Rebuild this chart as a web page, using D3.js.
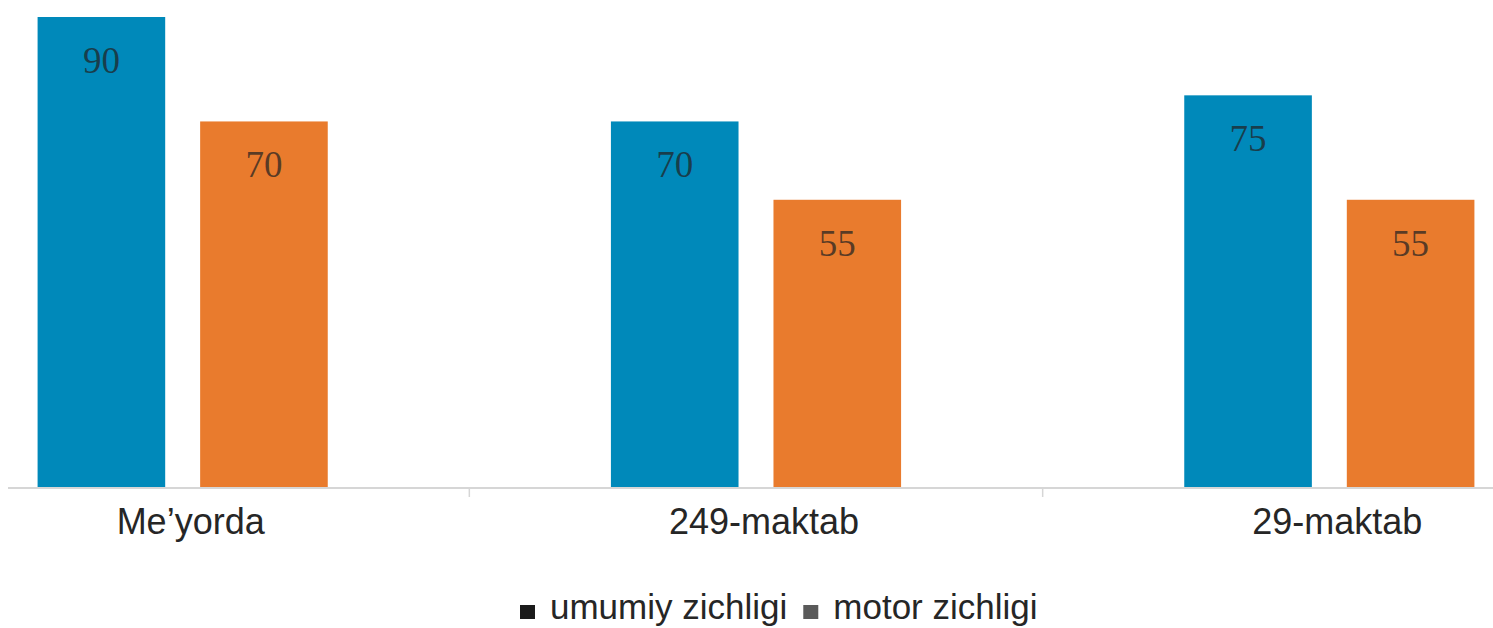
<!DOCTYPE html>
<html>
<head>
<meta charset="utf-8">
<script src="https://cdn.jsdelivr.net/npm/d3@7"></script>
<style>
  html, body { margin: 0; padding: 0; background: #fff; }
  svg { display: block; overflow: hidden; }
</style>
</head>
<body>
<script>
(function () {
    'use strict';

    const width = 1493;
    const height = 628;

    const categories = ["Me\u2019yorda", "249-maktab", "29-maktab"];
    const seriesNames = ["umumiy zichligi", "motor zichligi"];
    const umumiy = [90, 70, 75];
    const motor = [70, 55, 55];
    const colors = ["#0089BA", "#E97B2D"];
    const legendSwatch = ["#1b1b1b", "#5a5a5a"];

    const rows = categories.map((c, i) => ({
        cat: c,
        values: [
            {key: seriesNames[0], value: umumiy[i]},
            {key: seriesNames[1], value: motor[i]}
        ]
    }));

    const svg = d3.select("body")
        .append("svg")
        .attr("width", width)
        .attr("height", height);

    svg.append("rect")
        .attr("width", width)
        .attr("height", height)
        .attr("fill", "#fff");

    // plot is cropped on the left in the original, so band range starts off-canvas
    const x0 = d3.scaleBand()
        .domain(categories)
        .range([-104, 1616])
        .paddingInner(0);

    const x1 = d3.scaleBand()
        .domain(seriesNames)
        .range([0, x0.bandwidth()])
        .paddingInner(0.215)
        .paddingOuter(0.871);

    const y = d3.scaleLinear()
        .domain([0, 90])
        .range([487, 17]);

    const color = d3.scaleOrdinal().domain(seriesNames).range(colors);

    // axis baseline
    svg.append("line")
        .attr("x1", 8)
        .attr("x2", width)
        .attr("y1", y(0) + 1)
        .attr("y2", y(0) + 1)
        .attr("stroke", "#d6d6d6")
        .attr("stroke-width", 2);

    // tick marks between categories
    svg.selectAll(".tick-mark")
        .data(categories.slice(1))
        .enter().append("line")
        .attr("class", "tick-mark")
        .attr("x1", d => x0(d))
        .attr("x2", d => x0(d))
        .attr("y1", y(0) + 1)
        .attr("y2", y(0) + 10)
        .attr("stroke", "#d6d6d6")
        .attr("stroke-width", 1.5);

    const group = svg.selectAll(".group")
        .data(rows)
        .enter().append("g")
        .attr("class", "group")
        .attr("transform", d => `translate(${x0(d.cat)},0)`);

    group.selectAll("rect")
        .data(d => d.values)
        .enter().append("rect")
        .attr("x", d => x1(d.key))
        .attr("y", d => y(d.value))
        .attr("width", x1.bandwidth())
        .attr("height", d => y(0) - y(d.value))
        .attr("fill", d => color(d.key));

    group.selectAll(".val")
        .data(d => d.values)
        .enter().append("text")
        .attr("class", "val")
        .attr("x", d => x1(d.key) + x1.bandwidth() / 2)
        .attr("y", d => y(d.value) + 56)
        .attr("text-anchor", "middle")
        .attr("font-family", "'Liberation Serif', 'DejaVu Serif', serif")
        .attr("font-size", 37)
        .attr("fill", "#222")
        .attr("fill-opacity", 0.72)
        .text(d => d.value);

    // category labels
    svg.selectAll(".cat-label")
        .data(categories)
        .enter().append("text")
        .attr("class", "cat-label")
        .attr("x", d => x0(d) + x0.bandwidth() / 2)
        .attr("dx", 8)
        .attr("y", 534)
        .attr("text-anchor", "middle")
        .attr("font-family", "'Liberation Sans', Arial, sans-serif")
        .attr("font-size", 36)
        .attr("fill", "#262626")
        .text(d => d);

    // legend
    const legend = svg.append("g")
        .attr("font-family", "'Liberation Sans', Arial, sans-serif")
        .attr("font-size", 35)
        .attr("fill", "#262626");

    let lx = 520;
    seriesNames.forEach((name, i) => {
        legend.append("rect")
            .attr("x", lx)
            .attr("y", 605)
            .attr("width", 15)
            .attr("height", 14)
            .attr("fill", legendSwatch[i]);
        const t = legend.append("text")
            .attr("x", lx + 30)
            .attr("y", 619)
            .text(name);
        lx += 30 + t.node().getComputedTextLength() + 16;
    });
}());
</script>
</body>
</html>
